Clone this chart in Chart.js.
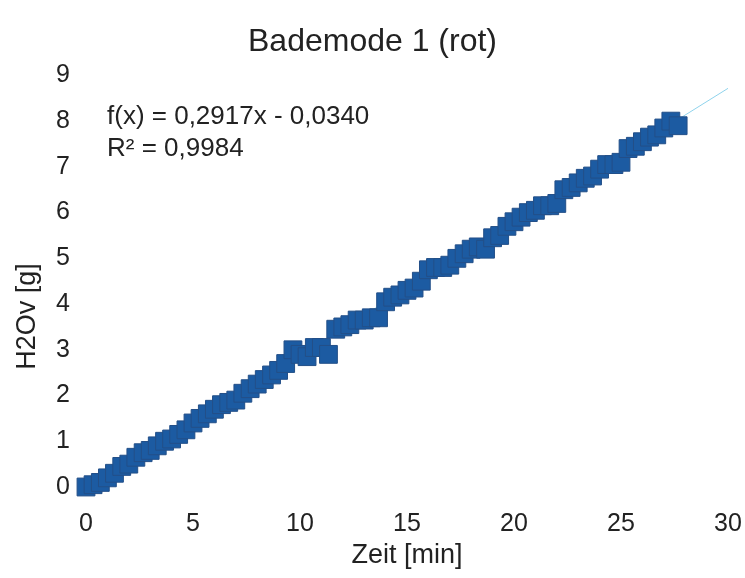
<!DOCTYPE html>
<html>
<head>
<meta charset="utf-8">
<script src="https://cdn.jsdelivr.net/npm/chart.js@4/dist/chart.umd.min.js"></script>
<style>
  html, body { margin: 0; padding: 0; background: #fff; }
  #wrap { width: 745px; height: 578px; }
</style>
</head>
<body>
<div id="wrap"><canvas id="myChart" width="745" height="578"></canvas></div>
<script>
// Messreihe: Zeit in Minuten (alle 20 s), Wasserdampf in g
var zeit = [
  0.00, 0.33, 0.67, 1.00, 1.33, 1.67, 2.00, 2.33, 2.67, 3.00,
  3.33, 3.67, 4.00, 4.33, 4.67, 5.00, 5.33, 5.67, 6.00, 6.33,
  6.67, 7.00, 7.33, 7.67, 8.00, 8.33, 8.67, 9.00, 9.33, 9.67,
  10.00, 10.33, 10.67, 11.00, 11.33, 11.67, 12.00, 12.33, 12.67, 13.00,
  13.33, 13.67, 14.00, 14.33, 14.67, 15.00, 15.33, 15.67, 16.00, 16.33,
  16.67, 17.00, 17.33, 17.67, 18.00, 18.33, 18.67, 19.00, 19.33, 19.67,
  20.00, 20.33, 20.67, 21.00, 21.33, 21.67, 22.00, 22.33, 22.67, 23.00,
  23.33, 23.67, 24.00, 24.33, 24.67, 25.00, 25.33, 25.67, 26.00, 26.33,
  26.67, 27.00, 27.33, 27.67
];
var h2ov = [
  0.00, 0.05, 0.10, 0.20, 0.30, 0.45, 0.50, 0.65, 0.75, 0.80,
  0.90, 1.00, 1.05, 1.15, 1.25, 1.40, 1.50, 1.60, 1.70, 1.80,
  1.85, 1.90, 2.05, 2.15, 2.25, 2.35, 2.45, 2.55, 2.70, 3.00,
  2.90, 2.85, 3.05, 3.05, 2.90, 3.45, 3.50, 3.55, 3.65, 3.65,
  3.70, 3.70, 4.05, 4.15, 4.20, 4.30, 4.35, 4.50, 4.75, 4.80,
  4.80, 4.85, 5.00, 5.10, 5.20, 5.25, 5.20, 5.45, 5.50, 5.70,
  5.80, 5.90, 6.00, 6.05, 6.15, 6.15, 6.20, 6.50, 6.55, 6.65,
  6.75, 6.80, 6.95, 7.05, 7.05, 7.10, 7.40, 7.45, 7.55, 7.65,
  7.70, 7.85, 8.00, 7.90
];

// lineare Regression (Trendlinie)
var steigung = 0.2917;
var achsenabschnitt = -0.0340;
var bestimmtheit = 0.9984;
var trendVon = 0;
var trendBis = 30;

var xTicks = [0, 5, 10, 15, 20, 25, 30];
var yTicks = [0, 1, 2, 3, 4, 5, 6, 7, 8, 9];

var punkte = zeit.map(function (t, i) { return { x: t, y: h2ov[i] }; });
var trend = [trendVon, trendBis].map(function (t) {
  return { x: t, y: steigung * t + achsenabschnitt };
});

function zahl(v) {
  return Math.abs(v).toFixed(4).replace('.', ',');
}

var textFarbe = '#222222';
var schrift = "'Liberation Sans', Arial, sans-serif";

// Formel, R² und die y-Achsenbeschriftung (etwas unter der Mitte) selbst zeichnen
var formelPlugin = {
  id: 'formel',
  afterDraw: function (chart) {
    var ctx = chart.ctx;
    var a = chart.chartArea;
    ctx.save();
    ctx.fillStyle = textFarbe;
    ctx.font = '26px ' + schrift;
    ctx.textBaseline = 'middle';
    var f = 'f(x) = ' + zahl(steigung) + 'x ' + (achsenabschnitt < 0 ? '- ' : '+ ') + zahl(achsenabschnitt);
    ctx.fillText(f, a.left + 21, a.top + 41);
    ctx.fillText('R² = ' + zahl(bestimmtheit), a.left + 21, a.top + 73);

    ctx.font = '27px ' + schrift;
    ctx.textAlign = 'center';
    ctx.translate(a.left - 58, a.top + 241);
    ctx.rotate(-Math.PI / 2);
    ctx.fillText('H2Ov [g]', 0, 0);
    ctx.restore();
  }
};

var ctx = document.getElementById('myChart').getContext('2d');
var chart = new Chart(ctx, {
  type: 'scatter',
  data: {
    datasets: [
      {
        label: 'H2Ov',
        data: punkte,
        pointStyle: 'rect',
        pointRadius: 12.6,
        backgroundColor: '#1c5ba2',
        borderColor: '#234f88',
        borderWidth: 1,
        clip: false,
        order: 1
      },
      {
        label: 'Trend',
        type: 'line',
        data: trend,
        borderColor: '#8fd3ec',
        borderWidth: 1,
        pointRadius: 0,
        fill: false,
        order: 2
      }
    ]
  },
  options: {
    responsive: false,
    animation: false,
    layout: { padding: 0 },
    plugins: {
      legend: { display: false },
      tooltip: { enabled: false },
      title: {
        display: true,
        text: 'Bademode 1 (rot)',
        color: textFarbe,
        font: { family: schrift, size: 32, weight: 'normal' },
        padding: { top: 23, bottom: 14 }
      }
    },
    scales: {
      x: {
        type: 'linear',
        min: 0,
        max: 30,
        grid: { display: false },
        border: { display: false },
        afterBuildTicks: function (axis) {
          axis.ticks = xTicks.map(function (v) { return { value: v }; });
        },
        afterFit: function (axis) {
          axis.height = 91;
          axis.paddingLeft = 0;
          axis.paddingRight = 17;
        },
        ticks: {
          color: textFarbe,
          padding: 14,
          font: { family: schrift, size: 25 }
        },
        title: {
          display: true,
          text: 'Zeit [min]',
          color: textFarbe,
          font: { family: schrift, size: 27 },
          padding: { top: 6, bottom: 6 }
        }
      },
      y: {
        type: 'linear',
        min: 0,
        max: 9,
        grid: { display: false },
        border: { display: false },
        afterBuildTicks: function (axis) {
          axis.ticks = yTicks.map(function (v) { return { value: v }; });
        },
        afterFit: function (axis) {
          axis.width = 86;
          axis.paddingTop = 0;
          axis.paddingBottom = 0;
        },
        ticks: {
          color: textFarbe,
          padding: 8,
          font: { family: schrift, size: 25 }
        }
      }
    }
  },
  plugins: [formelPlugin]
});
</script>
</body>
</html>
